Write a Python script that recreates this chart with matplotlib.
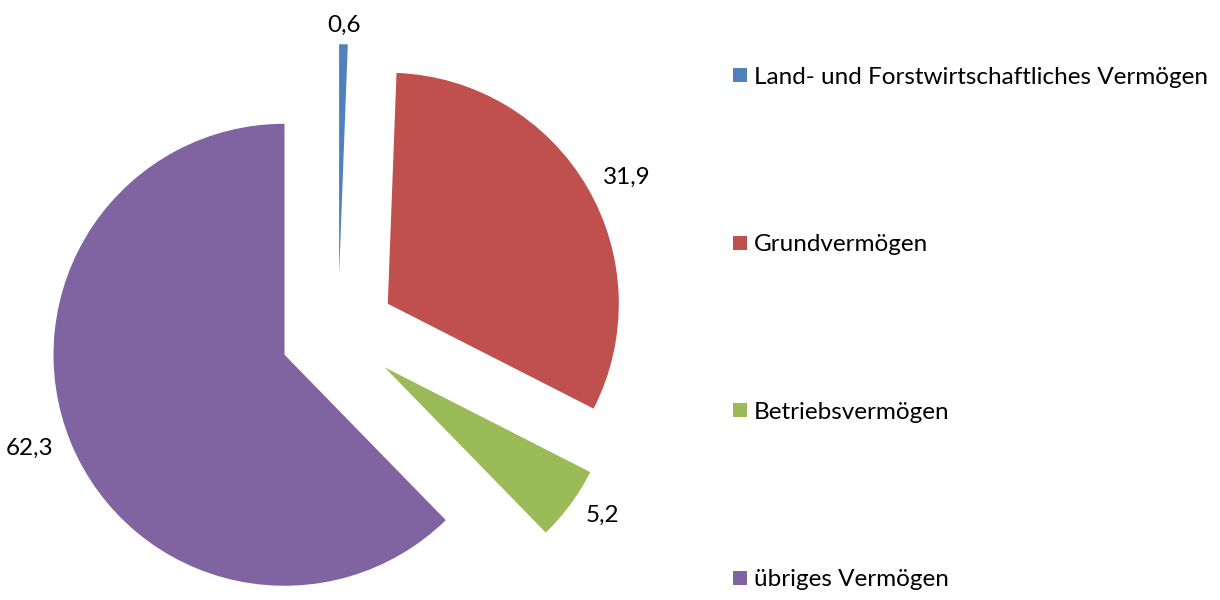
import matplotlib
matplotlib.use("Agg")
import matplotlib.pyplot as plt
from matplotlib.lines import Line2D

categories = ["Land- und Forstwirtschaftliches Vermögen", "Grundvermögen",
              "Betriebsvermögen", "übriges Vermögen"]
values = [0.6, 31.9, 5.2, 62.3]
value_labels = ["0,6", "31,9", "5,2", "62,3"]
colors = ["#4F81BD", "#C0504D", "#9BBB59", "#8064A2"]

plt.rcParams['font.family'] = ['Lato', 'DejaVu Sans']

fig = plt.figure(figsize=(12.2, 6), dpi=100)
ax = fig.add_axes([0, 0, 680 / 1220, 1])
wedges, texts = ax.pie(values, labels=value_labels, colors=colors, startangle=90,
                       counterclock=False, explode=[0.25] * 4, radius=1,
                       labeldistance=1.08, textprops={'fontsize': 17.5},
                       wedgeprops={'linewidth': 0})
for t in texts:
    x, y = t.get_position()
    if abs(x) < 0.2:
        t.set_ha('center')
ax.set_xlim(-338 / 231, (680 - 338) / 231)
ax.set_ylim(-267 / 231, 333 / 231)
ax.set_aspect('auto')
ax.axis('off')

handles = [Line2D([], [], linestyle='none', marker='s', markersize=10.5,
                  markerfacecolor=c, markeredgewidth=0) for c in colors]
fig.legend(handles, categories, loc='center left', bbox_to_anchor=(722 / 1220, 0.4525),
           frameon=False, fontsize=17.5, labelspacing=6.03, handlelength=0.65,
           handletextpad=0.25, borderaxespad=0)

fig.savefig("out.png", dpi=100)
